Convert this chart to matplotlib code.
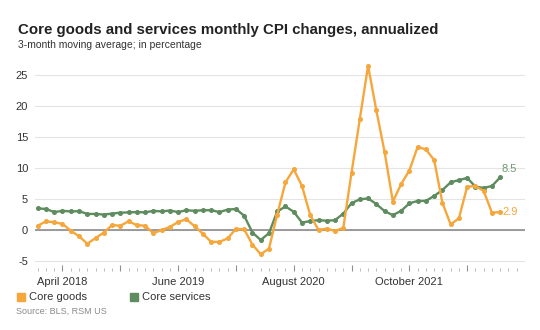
import numpy as np
import pandas as pd
import matplotlib
matplotlib.use('Agg')
import matplotlib.pyplot as plt

plt.rcParams['font.family'] = ['Liberation Sans', 'DejaVu Sans']

# monthly series, Jan 2018 - Sep 2022
months = pd.date_range('2018-01-01', periods=57, freq='MS')

core_goods = [
    0.7, 1.4, 1.25, 1.0, -0.1, -1.0, -2.2, -1.3, -0.4, 0.8,
    0.7, 1.4, 0.8, 0.7, -0.5, 0.0, 0.5, 1.3, 1.75, 0.6,
    -0.6, -1.9, -1.9, -1.35, 0.2, 0.1, -2.35, -3.9, -3.0, 2.5,
    7.7, 9.8, 7.1, 2.4, 0.0, 0.25, -0.15, 0.35, 9.25, 17.9,
    26.5, 19.3, 12.6, 4.6, 7.4, 9.6, 13.4, 13.0, 11.3, 4.4,
    0.9, 1.9, 7.0, 7.1, 6.3, 2.8, 2.9,
]
core_services = [
    3.5, 3.4, 2.9, 3.1, 3.0, 3.05, 2.6, 2.6, 2.5, 2.65,
    2.8, 2.85, 2.9, 2.85, 3.1, 3.0, 3.15, 2.9, 3.2, 3.1,
    3.2, 3.2, 2.9, 3.3, 3.4, 2.3, -0.4, -1.6, -0.5, 3.0,
    3.8, 2.95, 1.2, 1.45, 1.6, 1.5, 1.6, 2.65, 4.35, 4.95,
    5.1, 4.2, 3.05, 2.4, 3.1, 4.3, 4.7, 4.7, 5.5, 6.45,
    7.7, 8.05, 8.4, 7.0, 6.8, 7.1, 8.5,
]

orange = '#f6a73c'
green = '#5e8c5f'

fig = plt.figure(figsize=(5.4, 3.3), dpi=100)
ax = fig.add_axes([0.0648, 0.1788, 0.9074, 0.6315])

x = np.arange(len(months))
ax.plot(x, core_goods, color=orange, lw=1.7, marker='o', ms=2.6,
        zorder=4, clip_on=False)
ax.plot(x, core_services, color=green, lw=1.7, marker='o', ms=2.6,
        zorder=3, clip_on=False)

ax.set_xlim(-0.33, 59.0)
ax.set_ylim(-6.6, 27)

# gridlines and zero line
yticks = [-5, 0, 5, 10, 15, 20, 25]
for v in yticks:
    ax.axhline(v, color='#e4e4e4', lw=0.8, zorder=1)
ax.axhline(0, color='#8c8c8c', lw=1.2, zorder=2)

ax.set_yticks(yticks)
ax.set_yticklabels([str(v) for v in yticks])
ax.tick_params(axis='y', length=0, pad=5, labelsize=8, labelcolor='#333333')

# month ticks, labels every 14 months starting April 2018
ax.set_xticks(np.arange(0, 59), minor=True)
major = np.arange(3, 59, 7)
ax.set_xticks(major)
ax.set_xticklabels([months[i].strftime('%B %Y') if (i - 3) % 14 == 0 and i < len(months) else ''
                    for i in major])
ax.tick_params(axis='x', which='minor', direction='in', length=2.5, width=0.6, color='#b0b0b0')
ax.tick_params(axis='x', which='major', direction='in', length=4, width=0.8, color='#909090',
               labelsize=8, labelcolor='#333333', pad=4)

for s in ax.spines.values():
    s.set_visible(False)

# end-of-series value labels
ax.text(x[-1] + 0.1, core_services[-1] + 1.3, f'{core_services[-1]:.1f}', color='#6f9a70',
        fontsize=8, ha='left', va='center')
ax.text(x[-1] + 0.25, core_goods[-1], f'{core_goods[-1]:.1f}', color=orange,
        fontsize=8, ha='left', va='center')

fig.text(0.034, 0.908, 'Core goods and services monthly CPI changes, annualized',
         fontsize=10.8, fontweight='bold', color='#222222', va='center')
fig.text(0.034, 0.864, '3-month moving average; in percentage',
         fontsize=7.5, color='#333333', va='center')

# legend
fig.patches.append(plt.Rectangle((17 / 540, 1 - 301 / 330), 8 / 540, 8 / 330,
                                 transform=fig.transFigure, color=orange))
fig.text(29 / 540, 1 - 297 / 330, 'Core goods', fontsize=8, color='#333333', va='center')
fig.patches.append(plt.Rectangle((130 / 540, 1 - 301 / 330), 8 / 540, 8 / 330,
                                 transform=fig.transFigure, color=green))
fig.text(142 / 540, 1 - 297 / 330, 'Core services', fontsize=8, color='#333333', va='center')

fig.text(16 / 540, 1 - 311 / 330, 'Source: BLS, RSM US', fontsize=6.5, color='#8a8a8a', va='center')

fig.savefig('out.png', dpi=100, facecolor='white')
